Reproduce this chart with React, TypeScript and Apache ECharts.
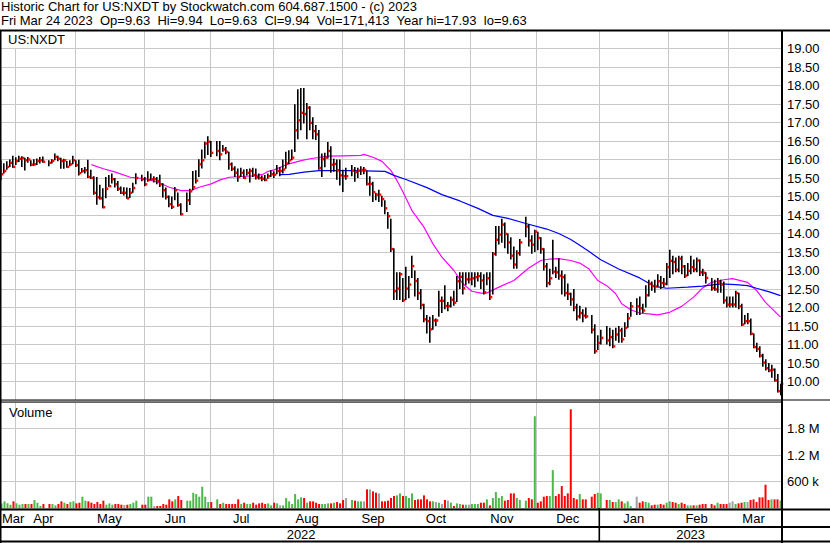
import React, { useEffect, useRef } from "react";
import * as echarts from "echarts";

// ---- data (index = weekday slot from 2022-03-25 to 2023-03-24; null = market holiday) ----
const closes: (number | null)[] = [
  15.60, 15.69, 15.80, 15.91, 15.80, 15.96, 16.02, 16.04, 15.98, 16.00,
  15.86, 15.87, 15.96, 15.98, 15.94, null, 15.91, 15.96, 16.07, 16.02,
  15.96, 15.98, 15.80, 15.87, 15.98, 15.85, 15.63, 15.69, 15.71, 15.53,
  15.50, 15.10, 14.98, 14.95, 14.71, 15.21, 15.28, 15.47, 15.33, 15.21,
  15.10, 15.10, 14.95, 15.10, 15.23, 15.50, null, 15.47, 15.33, 15.45,
  15.47, 15.47, 15.42, 15.33, 15.17, 14.99, 14.79, 14.72, 15.17, 14.77,
  14.52, null, 14.90, 15.14, 15.25, 15.43, 15.87, 15.98, 16.43, 16.48,
  16.18, null, 16.23, 16.14, 16.27, 16.21, 15.87, 15.75, 15.64, 15.53,
  15.64, 15.50, 15.64, 15.69, 15.58, 15.52, 15.50, 15.48, 15.45, 15.55,
  15.60, 15.59, 15.69, 15.69, 15.73, 15.89, 15.98, 16.05, 16.79, 17.06,
  17.26, 17.23, 17.40, 16.99, 16.77, 16.68, 15.77, 16.01, 16.05, 16.23,
  15.86, 15.88, 15.71, 15.57, 15.55, 15.55, null, 15.70, 15.66, 15.70,
  15.72, 15.72, 15.34, 15.34, 15.12, 15.05, 15.05, 14.93, 14.68, 14.47,
  13.58, 12.44, 12.51, 12.90, 12.20, 12.51, 12.62, 13.12, 12.72, 12.39,
  12.07, 11.68, 11.63, 11.41, 11.65, 11.65, 12.18, 12.18, 12.04, 12.04,
  12.21, 12.13, 12.71, 12.83, 12.52, 12.76, 12.76, 12.79, 12.82, 12.85,
  12.73, 12.41, 12.79, 12.28, 13.45, 13.83, 13.97, 14.24, 13.99, 13.76,
  13.40, 13.16, 13.47, 13.76, null, 14.19, 13.81, 13.70, 14.05, 13.88,
  13.58, 13.11, 12.66, 12.79, 12.97, 12.95, 12.86, 12.82, 12.39, 12.37,
  12.22, 12.00, 11.76, 11.85, 11.78, 11.76, null, 11.40, 10.82, 11.04,
  11.18, null, 11.11, 11.20, 10.95, 11.27, 11.38, 11.14, 11.45, 11.71,
  12.03, null, 12.03, 11.98, 11.92, 12.33, 12.64, 12.58, 12.57, 12.71,
  12.66, 12.64, 13.09, 13.26, 13.23, 13.02, 13.32, 13.11, 12.86, 12.99,
  13.09, 13.03, 13.27, 12.95, 12.94, 12.80, null, 12.53, 12.49, 12.70,
  12.62, 12.19, 12.08, 12.08, 12.08, 12.39, 12.03, 11.54, 11.63, 11.63,
  11.29, 10.93, 10.88, 10.70, 10.51, 10.36, 10.30, 10.32, 10.03, 9.74,
  9.94,
];

const highs: (number | null)[] = [
  15.98, 15.90, 15.95, 16.00, 16.10, 16.06, 16.10, 16.09, 16.05, 16.07,
  15.98, 16.01, 16.03, 16.07, 16.08, null, 15.98, 16.01, 16.16, 16.10,
  16.05, 16.02, 15.96, 15.98, 16.10, 15.98, 15.99, 15.77, 15.80, 15.99,
  15.72, 15.55, 15.53, 15.32, 15.22, 15.53, 15.58, 15.62, 15.50, 15.42,
  15.27, 15.25, 15.24, 15.23, 15.37, 15.63, null, 15.59, 15.53, 15.68,
  15.62, 15.55, 15.53, 15.59, 15.36, 15.24, 15.03, 15.00, 15.26, 15.11,
  14.82, null, 15.11, 15.21, 15.69, 15.71, 16.01, 16.27, 16.48, 16.63,
  16.50, null, 16.50, 16.50, 16.39, 16.34, 16.21, 15.92, 15.82, 15.76,
  15.78, 15.73, 15.74, 15.76, 15.78, 15.76, 15.62, 15.57, 15.58, 15.62,
  15.71, 15.68, 15.85, 15.80, 16.00, 16.21, 16.25, 16.27, 17.49, 17.90,
  17.93, 17.93, 17.53, 17.44, 17.14, 16.93, 16.80, 16.16, 16.18, 16.47,
  16.36, 16.02, 16.00, 16.00, 15.72, 15.78, null, 15.85, 15.80, 15.78,
  15.82, 15.80, 15.70, 15.55, 15.40, 15.10, 15.18, 15.02, 14.90, 14.58,
  14.40, 13.60, 12.95, 12.95, 12.80, 13.10, 12.85, 13.40, 13.00, 12.80,
  12.50, 12.10, 11.80, 11.75, 11.80, 11.70, 12.45, 12.30, 12.60, 12.15,
  12.30, 12.45, 12.85, 12.95, 12.95, 12.95, 12.95, 12.95, 12.95, 12.95,
  12.95, 12.90, 12.95, 12.95, 13.50, 14.20, 14.20, 14.40, 14.30, 14.00,
  13.90, 13.65, 13.55, 13.85, null, 14.45, 14.25, 13.95, 14.10, 14.05,
  13.90, 13.60, 13.20, 13.05, 13.83, 13.10, 13.33, 13.00, 12.90, 12.65,
  12.40, 12.50, 12.10, 12.05, 11.95, 12.00, null, 11.80, 11.55, 11.25,
  11.40, null, 11.50, 11.45, 11.40, 11.45, 11.50, 11.45, 11.60, 11.85,
  12.15, null, 12.25, 12.30, 12.10, 12.60, 12.75, 12.70, 12.75, 12.90,
  12.85, 12.80, 13.20, 13.56, 13.40, 13.35, 13.40, 13.40, 13.15, 13.20,
  13.40, 13.30, 13.35, 13.30, 13.05, 12.95, null, 12.80, 12.75, 12.80,
  12.75, 12.70, 12.30, 12.30, 12.30, 12.45, 12.40, 12.10, 11.80, 11.85,
  11.70, 11.30, 11.05, 10.95, 10.75, 10.60, 10.50, 10.45, 10.35, 10.20,
  9.94,
];

const lows: (number | null)[] = [
  15.44, 15.62, 15.72, 15.80, 15.78, 15.85, 15.93, 15.80, 15.70, 15.91,
  15.82, 15.83, 15.85, 15.89, 15.91, null, 15.82, 15.89, 15.98, 15.95,
  15.75, 15.75, 15.78, 15.82, 15.87, 15.80, 15.57, 15.64, 15.62, 15.50,
  15.47, 15.05, 14.78, 14.92, 14.68, 14.95, 15.26, 15.35, 15.24, 15.15,
  15.07, 15.03, 14.94, 14.96, 15.10, 15.33, null, 15.41, 15.28, 15.40,
  15.44, 15.38, 15.33, 15.26, 14.97, 14.92, 14.71, 14.66, 14.90, 14.72,
  14.49, null, 14.58, 14.77, 15.17, 15.35, 15.53, 15.76, 16.03, 16.12,
  16.07, null, 16.09, 15.98, 16.21, 16.14, 15.72, 15.69, 15.53, 15.40,
  15.53, 15.48, 15.57, 15.38, 15.53, 15.46, 15.46, 15.41, 15.41, 15.48,
  15.53, 15.50, 15.60, 15.55, 15.62, 15.75, 15.88, 15.98, 16.20, 16.55,
  16.79, 16.97, 16.55, 16.79, 16.55, 16.53, 15.72, 15.53, 15.79, 16.03,
  15.64, 15.67, 15.45, 15.30, 15.12, 15.45, null, 15.55, 15.40, 15.50,
  15.58, 15.60, 15.30, 15.02, 14.85, 14.90, 14.85, 14.72, 14.52, 14.13,
  13.50, 12.20, 12.20, 12.20, 12.15, 12.20, 12.25, 12.80, 12.30, 12.20,
  11.95, 11.60, 11.30, 11.05, 11.40, 11.50, 11.75, 11.85, 11.95, 11.90,
  12.00, 12.05, 12.15, 12.50, 12.35, 12.60, 12.65, 12.60, 12.55, 12.70,
  12.50, 12.35, 12.60, 12.20, 12.35, 13.40, 13.70, 13.75, 13.60, 13.45,
  13.30, 13.05, 13.05, 13.40, null, 13.90, 13.65, 13.45, 13.50, 13.55,
  13.45, 13.00, 12.55, 12.60, 12.90, 12.80, 12.75, 12.35, 12.30, 12.20,
  12.05, 11.90, 11.65, 11.70, 11.60, 11.70, null, 11.30, 10.75, 10.85,
  11.00, null, 11.00, 10.95, 10.90, 11.10, 11.05, 11.05, 11.20, 11.45,
  11.75, null, 11.80, 11.80, 11.85, 12.00, 12.30, 12.45, 12.40, 12.55,
  12.50, 12.55, 12.60, 12.80, 12.90, 12.95, 12.95, 12.90, 12.80, 12.85,
  12.90, 12.95, 12.95, 12.85, 12.85, 12.65, null, 12.45, 12.45, 12.40,
  12.40, 12.10, 12.00, 12.00, 12.00, 12.00, 11.95, 11.50, 11.55, 11.55,
  11.25, 10.90, 10.80, 10.65, 10.40, 10.30, 10.25, 10.10, 10.00, 9.70,
  9.63,
];

// volume in thousands of shares
const volumesK: (number | null)[] = [
  100, 151, 105, 75, 151, 105, 75, 90, 90, 90,
  90, 181, 120, 45, 90, null, 90, 90, 60, 90,
  151, 120, 90, 136, 151, 105, 120, 256, 166, 151,
  120, 90, 136, 90, 166, 75, 105, 75, 90, 90,
  75, 68, 75, 90, 120, 166, null, 75, 75, 256,
  256, 45, 45, 45, 90, 75, 196, 151, 196, 271,
  181, null, 166, 166, 346, 316, 256, 482, 256, 136,
  136, null, 196, 90, 120, 90, 90, 90, 90, 196,
  90, 120, 90, 90, 120, 75, 105, 120, 90, 105,
  60, 120, 105, 60, 60, 226, 151, 90, 316, 196,
  241, 226, 120, 151, 151, 120, 90, 90, 90, 105,
  105, 120, 136, 105, 181, 226, null, 181, 166, 151,
  151, 151, 422, 422, 377, 346, 331, 151, 151, 166,
  226, 271, 286, 331, 271, 271, 226, 331, 181, 196,
  196, 286, 196, 151, 151, 136, 120, 90, 181, 166,
  120, 45, 105, 90, 75, 75, 75, 90, 90, 90,
  120, 120, 196, 60, 226, 361, 226, 271, 166, 181,
  331, 331, 226, 181, null, 166, 226, 196, 2078, 120,
  151, 256, 271, 271, 858, 271, 316, 497, 271, 331,
  2236, 226, 196, 316, 196, 196, null, 256, 316, 346,
  331, null, 181, 181, 136, 136, 196, 151, 105, 151,
  45, null, 256, 120, 151, 136, 120, 60, 75, 75,
  90, 75, 120, 151, 136, 120, 90, 120, 90, 60,
  60, 60, 60, 75, 90, 90, null, 90, 60, 120,
  90, 90, 90, 120, 151, 90, 105, 120, 136, 136,
  181, 196, 136, 241, 241, 527, 181, 196, 196, 196,
  171,
];

// moving averages: [slot index, price]
const maShort: [number, number][] = [
  [30, 15.86], [34, 15.75], [38, 15.66], [43, 15.52], [48, 15.48], [52, 15.39], [56, 15.25],
  [60, 15.16], [63, 15.16], [66, 15.25], [70, 15.34], [73, 15.45], [76, 15.52], [80, 15.54],
  [84, 15.56], [87, 15.59], [89, 15.68], [91, 15.72], [95, 15.86], [100, 15.97], [103, 16.02],
  [109, 16.09], [114, 16.10], [120, 16.11], [121, 16.14], [124, 16.06], [127, 15.95], [130, 15.70],
  [132, 15.43], [134, 15.12], [137, 14.62], [141, 14.17], [144, 13.72], [147, 13.36], [151, 13.00],
  [154, 12.64], [157, 12.44], [160, 12.39], [162, 12.39], [166, 12.55], [171, 12.73], [175, 13.00],
  [176, 13.07], [180, 13.27], [183, 13.31], [186, 13.32], [190, 13.27], [193, 13.20], [196, 13.05],
  [199, 12.73], [202, 12.59], [205, 12.37], [207, 12.10], [210, 11.94], [213, 11.85], [216, 11.83],
  [219, 11.80], [223, 11.87], [227, 12.03], [231, 12.28], [234, 12.53], [237, 12.68], [241, 12.75],
  [244, 12.78], [249, 12.68], [252, 12.46], [255, 12.14], [260, 11.74],
];
const maLong: [number, number][] = [
  [93, 15.59], [96, 15.60], [101, 15.66], [106, 15.70], [118, 15.70], [128, 15.68], [131, 15.57],
  [135, 15.46], [142, 15.24], [147, 15.05], [153, 14.88], [159, 14.68], [164, 14.49], [169, 14.41],
  [175, 14.27], [182, 14.12], [186, 14.00], [190, 13.84], [193, 13.68], [196, 13.52], [200, 13.29],
  [206, 13.04], [213, 12.80], [218, 12.57], [222, 12.52], [229, 12.55], [234, 12.58], [240, 12.64],
  [245, 12.62], [249, 12.59], [252, 12.52], [256, 12.43], [260, 12.32],
];

// month grid boundaries (slot index) and label slots
const monthBoundaries = [5, 25, 48, 70, 91, 114, 135, 157, 179, 200, 223, 243];
const monthLabelSlots = [2, 14, 36, 58, 80, 102, 124, 145, 167, 189, 211, 232, 251];
const monthLabels = ["Mar", "Apr", "May", "Jun", "Jul", "Aug", "Sep", "Oct", "Nov", "Dec", "Jan", "Feb", "Mar"];
const yearLabelSlots = [100, 230];
const yearLabels = ["2022", "2023"];
const yearBoundary = 200;

const headerLine1 = "Historic Chart for US:NXDT by Stockwatch.com 604.687.1500 - (c) 2023";
const headerLine2 =
  "Fri Mar 24 2023\u00a0 Op=9.63\u00a0 Hi=9.94\u00a0 Lo=9.63\u00a0 Cl=9.94\u00a0 Vol=171,413\u00a0 Year hi=17.93\u00a0 lo=9.63";

function buildDates(): string[] {
  const out: string[] = [];
  const d = new Date(Date.UTC(2022, 2, 25));
  const end = Date.UTC(2023, 2, 24);
  while (d.getTime() <= end) {
    const wd = d.getUTCDay();
    if (wd !== 0 && wd !== 6) out.push(d.toISOString().slice(0, 10));
    d.setUTCDate(d.getUTCDate() + 1);
  }
  return out;
}

const FONT = "'Liberation Sans', Arial, sans-serif";
const LABEL_FONT = "13px " + FONT;
const GRID = "#c8c8c8";

// vertical month grid lines drawn at category band boundaries
const gridLineRenderer = (params: any, api: any) => {
  const idx = api.value(0);
  const c = api.coord([idx, api.value(1)]);
  const band = api.size([1, 0])[0];
  const x = Math.round(c[0] - band / 2) + 0.5;
  const cs = params.coordSys;
  return {
    type: "line",
    shape: { x1: x, y1: cs.y, x2: x, y2: cs.y + cs.height },
    style: { stroke: GRID, lineWidth: 1 },
  };
};

export default function App() {
  const ref = useRef<HTMLDivElement>(null);
  useEffect(() => {
    if (!ref.current) return;
    const chart = echarts.init(ref.current, undefined, { renderer: "svg" });
    const dates = buildDates();

    const ohlc: number[][] = [];
    closes.forEach((c, i) => {
      if (c != null && highs[i] != null && lows[i] != null) ohlc.push([i, highs[i] as number, lows[i] as number, c]);
    });

    let prev: number | null = null;
    const volData = volumesK.map((v, i) => {
      const c = closes[i];
      if (v == null || c == null) return null;
      let color = "#4cb84c";
      if (prev != null) {
        if (c < prev) color = "#ff0000";
        else if (c === prev) color = "#a0a0a0";
      }
      prev = c;
      return { value: v * 1000, itemStyle: { color } };
    });

    chart.setOption({
      animation: false,
      backgroundColor: "#ffffff",
      textStyle: { fontFamily: FONT },
      grid: [
        { left: 0, top: 30, width: 782, height: 370 },
        { left: 0, top: 402, width: 782, height: 106 },
      ],
      xAxis: [
        {
          type: "category", gridIndex: 0, data: dates, boundaryGap: true,
          axisLine: { show: false }, axisTick: { show: false }, axisLabel: { show: false }, splitLine: { show: false },
        },
        {
          type: "category", gridIndex: 1, data: dates, boundaryGap: true,
          axisLine: { show: false }, axisTick: { show: false }, axisLabel: { show: false }, splitLine: { show: false },
        },
      ],
      yAxis: [
        {
          type: "value", gridIndex: 0, position: "right", min: 9.5, max: 19.5, interval: 0.5,
          axisLine: { show: false }, axisTick: { show: false },
          splitLine: { show: true, lineStyle: { color: GRID, width: 1 } },
          axisLabel: {
            margin: 5, fontSize: 13, color: "#000", fontFamily: FONT,
            showMinLabel: false, showMaxLabel: false,
            formatter: (v: number) => v.toFixed(2),
          },
        },
        {
          type: "value", gridIndex: 1, position: "right", min: 0, max: 2400000, interval: 600000,
          axisLine: { show: false }, axisTick: { show: false },
          splitLine: { show: true, lineStyle: { color: GRID, width: 1 } },
          axisLabel: {
            margin: 5, fontSize: 13, color: "#000", fontFamily: FONT,
            formatter: (v: number) =>
              v === 0 || v === 2400000 ? "" : v >= 1000000 ? (v / 1000000).toFixed(1) + " M" : v / 1000 + " k",
          },
        },
      ],
      series: [
        {
          type: "custom", xAxisIndex: 0, yAxisIndex: 0, silent: true, z: 1,
          data: monthBoundaries.map((i) => [i, 10]),
          renderItem: gridLineRenderer,
        },
        {
          type: "custom", xAxisIndex: 1, yAxisIndex: 1, silent: true, z: 1,
          data: monthBoundaries.map((i) => [i, 0]),
          renderItem: gridLineRenderer,
        },
        {
          type: "line", xAxisIndex: 0, yAxisIndex: 0, data: maShort, symbol: "none", silent: true,
          lineStyle: { color: "#ff00ff", width: 1.2 }, z: 3,
        },
        {
          type: "line", xAxisIndex: 0, yAxisIndex: 0, data: maLong, symbol: "none", silent: true,
          lineStyle: { color: "#0000ff", width: 1.2 }, z: 3,
        },
        {
          type: "custom", xAxisIndex: 0, yAxisIndex: 0, data: ohlc, silent: true, z: 4,
          encode: { x: 0, y: [1, 2, 3] },
          renderItem: (params: any, api: any) => {
            const i = api.value(0);
            const hi = api.coord([i, api.value(1)]);
            const lo = api.coord([i, api.value(2)]);
            const cl = api.coord([i, api.value(3)]);
            const cx = Math.round(hi[0]);
            return {
              type: "group",
              children: [
                { type: "rect", shape: { x: cx - 1, y: hi[1], width: 1.6, height: Math.max(1, lo[1] - hi[1]) }, style: { fill: "#000" } },
                { type: "rect", shape: { x: cx - 0.2, y: cl[1] - 1.2, width: 2.5, height: 2.4 }, style: { fill: "#ff0000" } },
              ],
            };
          },
        },
        {
          type: "bar", xAxisIndex: 1, yAxisIndex: 1, data: volData, barWidth: 2, silent: true,
        },
        // month labels under the volume panel (kept inside the picture at the left edge)
        {
          type: "custom", xAxisIndex: 1, yAxisIndex: 1, silent: true, z: 5, clip: false,
          data: monthLabelSlots.map((i) => [i, 0]),
          renderItem: (params: any, api: any) => {
            const p = api.coord([api.value(0), 0]);
            const text = monthLabels[params.dataIndex];
            const w = echarts.format.getTextRect ? echarts.format.getTextRect(text, LABEL_FONT).width : 23;
            const tooLeft = p[0] - w / 2 < 2;
            return {
              type: "text", x: tooLeft ? 2 : p[0], y: p[1] + 10,
              style: { text, font: LABEL_FONT, fill: "#000", align: tooLeft ? "left" : "center", verticalAlign: "middle" },
            };
          },
        },
        // year labels and year separator
        {
          type: "custom", xAxisIndex: 1, yAxisIndex: 1, silent: true, z: 5, clip: false,
          data: yearLabelSlots.map((i) => [i, 0]),
          renderItem: (params: any, api: any) => {
            const p = api.coord([api.value(0), 0]);
            return {
              type: "text", x: p[0], y: p[1] + 26,
              style: { text: yearLabels[params.dataIndex], font: LABEL_FONT, fill: "#000", align: "center", verticalAlign: "middle" },
            };
          },
        },
        {
          type: "custom", xAxisIndex: 1, yAxisIndex: 1, silent: true, z: 5, clip: false,
          data: [[yearBoundary, 0]],
          renderItem: (params: any, api: any) => {
            const p = api.coord([api.value(0), 0]);
            const band = api.size([1, 0])[0];
            const x = Math.round(p[0] - band / 2);
            return { type: "rect", shape: { x: x - 0.5, y: p[1], width: 1.6, height: 33 }, style: { fill: "#000" } };
          },
        },
      ],
      graphic: [
        { type: "text", left: 1, top: 0, z: 100, style: { text: headerLine1, font: LABEL_FONT, fill: "#000" } },
        { type: "text", left: 1, top: 14, z: 100, style: { text: headerLine2, font: LABEL_FONT, fill: "#000" } },
        { type: "rect", shape: { x: 0, y: 29.5, width: 830, height: 2 }, style: { fill: "#000" }, z: 100 },
        { type: "rect", shape: { x: 2, y: 32, width: 70, height: 16 }, style: { fill: "#fff" }, z: 100 },
        { type: "text", left: 8, top: 33, z: 101, style: { text: "US:NXDT", font: LABEL_FONT, fill: "#000" } },
        { type: "text", left: 9, top: 406, z: 101, style: { text: "Volume", font: LABEL_FONT, fill: "#000" } },
        { type: "rect", shape: { x: 0, y: 399.5, width: 830, height: 1 }, style: { fill: "#000" }, z: 100 },
        { type: "rect", shape: { x: 0, y: 401.5, width: 782, height: 1 }, style: { fill: "#000" }, z: 100 },
        { type: "rect", shape: { x: 0, y: 508.5, width: 830, height: 2 }, style: { fill: "#000" }, z: 100 },
        { type: "rect", shape: { x: 0, y: 526, width: 830, height: 2 }, style: { fill: "#000" }, z: 100 },
        { type: "rect", shape: { x: 0, y: 540.5, width: 830, height: 2 }, style: { fill: "#000" }, z: 100 },
        { type: "rect", shape: { x: 781, y: 30, width: 2, height: 513 }, style: { fill: "#000" }, z: 100 },
        { type: "rect", shape: { x: 0, y: 30, width: 1.5, height: 513 }, style: { fill: "#000" }, z: 100 },
      ],
    });
    return () => chart.dispose();
  }, []);
  return <div ref={ref} style={{ position: "absolute", left: 0, top: 0, width: 830, height: 543 }} />;
}
